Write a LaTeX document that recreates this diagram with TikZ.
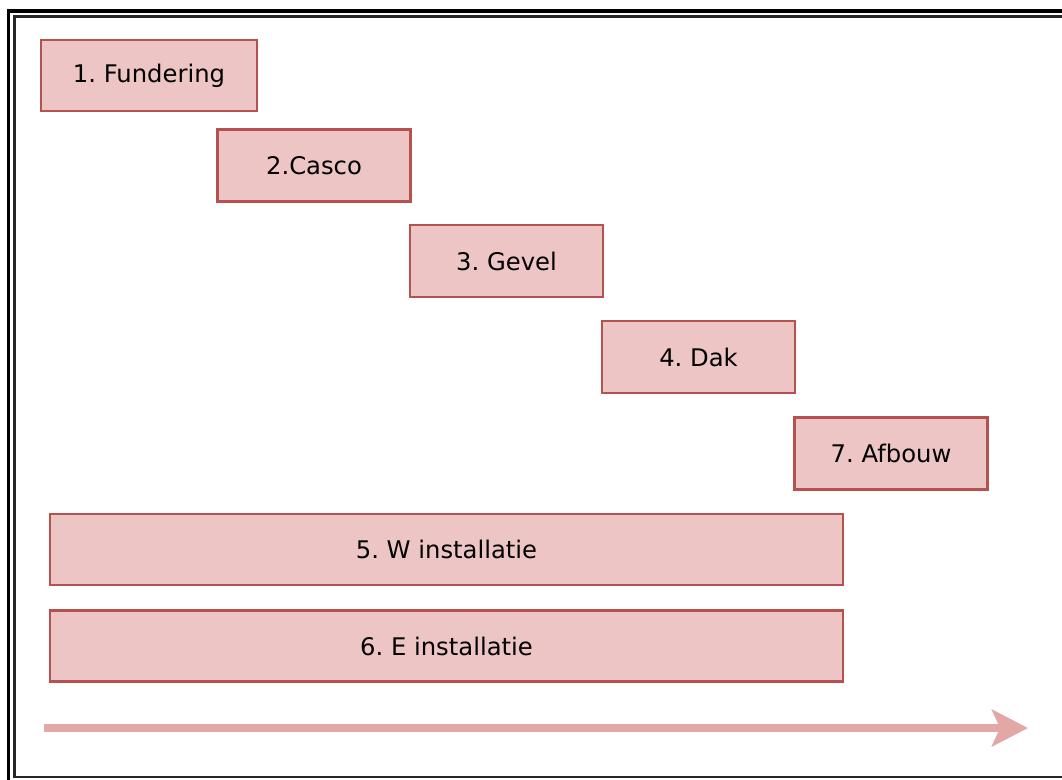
\documentclass[tikz,border=0pt]{standalone}
\usepackage{fontspec}
\setmainfont{DejaVu Sans}
\usetikzlibrary{arrows.meta}
\definecolor{taskfill}{HTML}{ECC5C4}
\definecolor{taskline}{HTML}{B5514E}
\definecolor{timeline}{HTML}{E3A8A6}
\frenchspacing
\begin{document}
\begin{tikzpicture}[x=0.75pt,y=-0.75pt,
  task/.style={draw=taskline,fill=taskfill,line width=1.9pt,rectangle,
    inner sep=0pt,minimum width=144.5pt,minimum height=54pt,
    font=\fontsize{18.2}{22}\selectfont,text=black},
  wide/.style={task,minimum width=595pt,minimum height=53.5pt}]
  \useasboundingbox (0,0) rectangle (1062,779);
  % double frame, running off the right and bottom edges
  \draw[line width=2.6pt,black] (8.5,11) rectangle (1080,800);
  \draw[line width=2pt,black!85] (14.5,16.5) rectangle (1075,777);
  % phases
  \node[task,minimum width=162pt,minimum height=53.5pt] (fund) at (149,75.5) {1. Fundering};
  \node[task] (casco) at (314,165.5) {2.Casco};
  \node[task] (gevel) at (506.5,261) {3. Gevel};
  \node[task] (dak) at (698.5,357) {4. Dak};
  \node[task] (afbouw) at (891,453.5) {7. Afbouw};
  \node[wide] (winst) at (446.5,549.5) {5. W installatie};
  \node[wide] (einst) at (446.5,646) {6. E installatie};
  % time axis
  \coordinate (tstart) at (44,728);
  \coordinate (tend) at (1028,728);
  \draw[timeline,line width=5.4pt,
    -{Stealth[length=27pt,width=27.5pt,inset=6pt]}] (tstart) -- (tend);
\end{tikzpicture}
\end{document}
